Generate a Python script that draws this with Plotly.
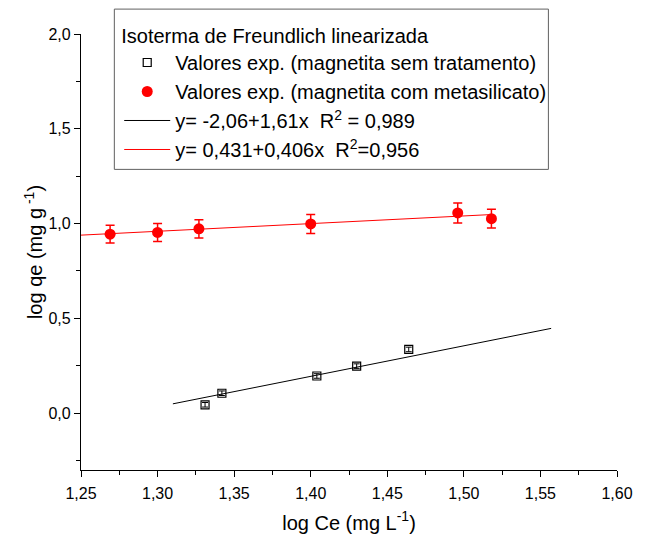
import plotly.graph_objects as go

# ---- data ----
x_sem = [1.331, 1.342, 1.404, 1.430, 1.464]
y_sem = [0.044, 0.105, 0.196, 0.248, 0.336]
err_sem = [0.012, 0.012, 0.012, 0.012, 0.012]

x_com = [1.269, 1.300, 1.327, 1.400, 1.496, 1.518]
y_com = [0.944, 0.953, 0.972, 0.998, 1.056, 1.026]
err_com = [0.047, 0.047, 0.048, 0.050, 0.053, 0.050]

fit_sem_x = [1.310, 1.557]
fit_sem_y = [0.049, 0.447]
fit_com_x = [1.250, 1.519]
fit_com_y = [0.939, 1.048]

x_ticks = [1.25, 1.30, 1.35, 1.40, 1.45, 1.50, 1.55, 1.60]
y_ticks = [0.0, 0.5, 1.0, 1.5, 2.0]

FONT = "Arial, Liberation Sans, sans-serif"

fig = go.Figure()

fig.add_trace(go.Scatter(
    x=x_sem, y=y_sem, mode="markers",
    name="Valores exp. (magnetita sem tratamento)",
    marker=dict(symbol="square-open", size=8, color="black", line=dict(width=1.2)),
    error_y=dict(type="data", array=err_sem, visible=True, color="black", thickness=1, width=3),
))
fig.add_trace(go.Scatter(
    x=x_com, y=y_com, mode="markers",
    name="Valores exp. (magnetita com metasilicato)",
    marker=dict(symbol="circle", size=11, color="#ff0000"),
    error_y=dict(type="data", array=err_com, visible=True, color="#ff0000", thickness=1.5, width=4.5),
))
fig.add_trace(go.Scatter(
    x=fit_sem_x, y=fit_sem_y, mode="lines",
    name="y= -2,06+1,61x \u00a0R<sup>2</sup> = 0,989",
    line=dict(color="black", width=1),
))
fig.add_trace(go.Scatter(
    x=fit_com_x, y=fit_com_y, mode="lines",
    name="y= 0,431+0,406x \u00a0R<sup>2</sup>=0,956",
    line=dict(color="#ff0000", width=1),
))

# legend frame (decoration, paper coordinates)
fig.add_shape(type="rect", xref="paper", yref="paper",
              x0=0.0622, x1=0.872, y0=0.6895, y1=1.0571,
              line=dict(color="#606060", width=1), fillcolor="rgba(0,0,0,0)", layer="below")

fig.update_layout(
    width=645, height=542,
    margin=dict(l=81, r=17, t=34, b=70),
    paper_bgcolor="white", plot_bgcolor="white",
    separators=",.",
    font=dict(family=FONT, size=16, color="black"),
    showlegend=True,
    legend=dict(
        title=dict(text="Isoterma de Freundlich linearizada", side="top", font=dict(size=20)),
        font=dict(size=20),
        x=0.0713, y=1.039, xanchor="left", yanchor="top",
        borderwidth=0, bgcolor="rgba(0,0,0,0)",
        itemwidth=46, tracegroupgap=0,
    ),
)

fig.update_xaxes(
    range=[1.25, 1.60], tickvals=x_ticks, tickformat=".2f",
    showline=True, linecolor="black", linewidth=1.2, mirror=False,
    ticks="outside", ticklen=6, tickwidth=1.2, tickcolor="black",
    ticklabelstandoff=3,
    minor=dict(dtick=0.025, tick0=1.25, ticks="outside", ticklen=4, tickwidth=1, tickcolor="black"),
    showgrid=False, zeroline=False,
    title=dict(text="log Ce (mg L<sup>-1</sup>)", font=dict(size=20), standoff=14),
    tickfont=dict(size=16),
)
fig.update_yaxes(
    range=[-0.30, 2.0], tickvals=y_ticks, tickformat=".1f",
    showline=True, linecolor="black", linewidth=1.2, mirror=False,
    ticks="outside", ticklen=6, tickwidth=1.2, tickcolor="black",
    minor=dict(dtick=0.25, tick0=0, ticks="outside", ticklen=4, tickwidth=1, tickcolor="black"),
    showgrid=False, zeroline=False,
    title=dict(text="log qe (mg g<sup> -1</sup>)", font=dict(size=20), standoff=0),
    tickfont=dict(size=16),
)

fig.write_html("out.html",
               config={"displayModeBar": False},
               post_script="document.body.style.margin='0';document.body.style.overflow='hidden';")
